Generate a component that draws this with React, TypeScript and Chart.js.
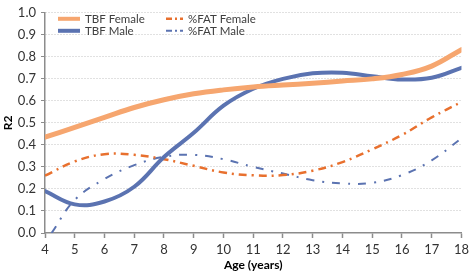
import React, { useEffect, useRef } from "react";
import { Chart, registerables } from "chart.js";

Chart.register(...registerables);

const ages = [4, 5, 6, 7, 8, 9, 10, 11, 12, 13, 14, 15, 16, 17, 18];
const tbfFemale = [0.435, 0.48, 0.525, 0.57, 0.605, 0.632, 0.65, 0.663, 0.672, 0.68, 0.69, 0.7, 0.72, 0.758, 0.833];
const tbfMale = [0.19, 0.13, 0.143, 0.21, 0.345, 0.455, 0.578, 0.655, 0.7, 0.725, 0.728, 0.712, 0.697, 0.705, 0.75];
const fatFemale = [0.26, 0.325, 0.358, 0.355, 0.335, 0.305, 0.275, 0.262, 0.263, 0.283, 0.322, 0.38, 0.445, 0.525, 0.595];
const fatMaleAges = [4.22, 5, 6, 7, 8, 9, 10, 11, 12, 13, 14, 15, 16, 17, 18];
const fatMale = [0, 0.15, 0.245, 0.308, 0.346, 0.355, 0.335, 0.3, 0.27, 0.24, 0.225, 0.228, 0.263, 0.33, 0.43];
const seriesNames = ["TBF Female", "TBF Male", "%FAT Female", "%FAT Male"];
const xTitle = "Age (years)";
const yTitle = "R2";

const FONT = "Lato, 'Open Sans', sans-serif";
const C_ORANGE = "#F6A66F";
const C_BLUE = "#5B73B1";
const C_RED = "#E8702E";
const TEXT = "#333333";

const legendPlugin = {
  id: "insideLegend",
  afterDraw(chart: any) {
    const ctx = chart.ctx;
    const a = chart.chartArea;
    const pos = [
      { x: a.left + 13, y: a.top + 6, len: 22 },
      { x: a.left + 13, y: a.top + 18, len: 22 },
      { x: a.left + 121, y: a.top + 6, len: 17 },
      { x: a.left + 121, y: a.top + 18, len: 17 },
    ];
    ctx.save();
    chart.data.datasets.forEach((d: any, i: number) => {
      const p = pos[i];
      ctx.beginPath();
      ctx.strokeStyle = d.borderColor;
      ctx.lineWidth = Math.min(d.borderWidth, 4);
      ctx.setLineDash(d.borderDash ? [6, 3, 2, 3] : []);
      ctx.lineCap = "butt";
      ctx.moveTo(p.x, p.y);
      ctx.lineTo(p.x + p.len, p.y);
      ctx.stroke();
      ctx.setLineDash([]);
      ctx.fillStyle = "#404040";
      ctx.font = `11.5px ${FONT}`;
      ctx.textBaseline = "middle";
      ctx.textAlign = "left";
      ctx.fillText(d.label, p.x + p.len + 5, p.y);
    });
    ctx.restore();
  },
};

export default function App() {
  const ref = useRef<HTMLCanvasElement>(null);
  useEffect(() => {
    document.body.style.margin = "0";
    const toPts = (xs: number[], ys: number[]) => xs.map((x, i) => ({ x, y: ys[i] }));
    const chart = new Chart(ref.current!, {
      type: "line",
      data: {
        datasets: [
          {
            label: seriesNames[0],
            data: toPts(ages, tbfFemale),
            borderColor: C_ORANGE,
            borderWidth: 5,
            pointRadius: 0,
            tension: 0.4,
            borderCapStyle: "round",
          },
          {
            label: seriesNames[1],
            data: toPts(ages, tbfMale),
            borderColor: C_BLUE,
            borderWidth: 4,
            pointRadius: 0,
            tension: 0.4,
            borderCapStyle: "round",
          },
          {
            label: seriesNames[2],
            data: toPts(ages, fatFemale),
            borderColor: C_RED,
            borderWidth: 2.5,
            borderDash: [8, 5, 2, 5],
            pointRadius: 0,
            tension: 0.4,
          },
          {
            label: seriesNames[3],
            data: toPts(fatMaleAges, fatMale),
            borderColor: C_BLUE,
            borderWidth: 2,
            borderDash: [8, 8, 2, 8],
            pointRadius: 0,
            tension: 0.4,
          },
        ],
      },
      options: {
        animation: false,
        responsive: true,
        maintainAspectRatio: false,
        layout: { padding: { top: 5, right: 7, left: 0, bottom: 0 } },
        plugins: { legend: { display: false }, tooltip: { enabled: false } },
        scales: {
          x: {
            type: "linear",
            min: 4,
            max: 18,
            afterFit: (s: any) => {
              s.height = 39;
            },
            ticks: {
              stepSize: 1,
              color: TEXT,
              padding: 4,
              font: { family: FONT, size: 13 },
            },
            grid: {
              drawOnChartArea: false,
              drawTicks: true,
              tickLength: 5,
              tickColor: "#8c8c8c",
              tickWidth: 1.5,
            },
            border: { display: true, color: "#8c8c8c", width: 1.5 },
            title: {
              display: true,
              text: xTitle,
              color: "#000",
              padding: { top: 0, bottom: 0 },
              font: { family: FONT, size: 12, weight: "bold" },
            },
          },
          y: {
            min: 0,
            max: 1,
            afterFit: (s: any) => {
              s.width = 45;
            },
            ticks: {
              stepSize: 0.05,
              color: TEXT,
              padding: 5,
              font: { family: FONT, size: 13 },
              callback: (v: any) => {
                const n = Math.round(Number(v) * 100);
                return n % 10 === 0 ? (n / 100).toFixed(1) : "";
              },
            },
            grid: {
              color: (c: any) => (c.tick && c.tick.value === 0 ? "rgba(0,0,0,0)" : "#c2c2c2"),
              lineWidth: 1,
              drawTicks: true,
              tickLength: 4,
              tickColor: (c: any) => {
                const n = Math.round(Number(c.tick?.value) * 100);
                return n % 10 === 0 ? "#8c8c8c" : "rgba(0,0,0,0)";
              },
              tickBorderDash: [],
            },
            border: { display: true, color: "#8c8c8c", width: 1.5, dash: [1, 2] },
            title: {
              display: true,
              text: yTitle,
              color: "#000",
              padding: { top: 1, bottom: 0 },
              font: { family: FONT, size: 12, weight: "bold" },
            },
          },
        },
      },
      plugins: [legendPlugin],
    } as any);
    return () => chart.destroy();
  }, []);
  return (
    <div style={{ position: "relative", width: 473, height: 272 }}>
      <canvas ref={ref} />
    </div>
  );
}
